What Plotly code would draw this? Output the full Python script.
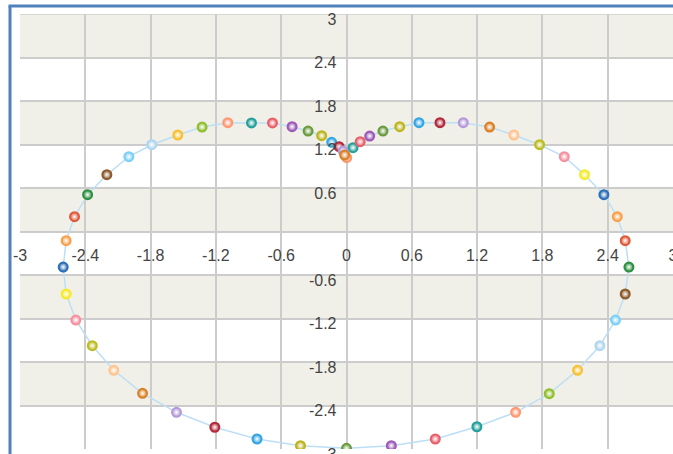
import plotly.graph_objects as go

# points, in drawing order (starts at the cusp)
x_vals = [0.002, 0.06, 0.126, 0.213, 0.335, 0.489, 0.666, 0.859, 1.073, 1.315,
          1.538, 1.774, 2.001, 2.187, 2.365, 2.488, 2.561, 2.595, 2.561, 2.472,
          2.328, 2.123, 1.863, 1.554, 1.198, 0.816, 0.412, 0.0, -0.423, -0.822,
          -1.21, -1.562, -1.874, -2.138, -2.336, -2.487, -2.576, -2.603, -2.576, -2.499,
          -2.379, -2.202, -2.0, -1.789, -1.55, -1.327, -1.091, -0.873, -0.68, -0.5,
          -0.353, -0.228, -0.136, -0.068, -0.031, -0.017]
y_vals = [1.018, 1.156, 1.239, 1.317, 1.386, 1.446, 1.501, 1.501, 1.501, 1.441,
          1.331, 1.197, 1.032, 0.783, 0.508, 0.204, -0.127, -0.49, -0.862, -1.221,
          -1.575, -1.914, -2.237, -2.494, -2.693, -2.862, -2.954, -2.99, -2.954, -2.862,
          -2.7, -2.494, -2.232, -1.914, -1.575, -1.221, -0.862, -0.49, -0.127, 0.204,
          0.508, 0.783, 1.032, 1.197, 1.331, 1.441, 1.501, 1.497, 1.497, 1.446,
          1.386, 1.321, 1.23, 1.17, 1.11, 1.055]

tick_vals = [-3, -2.4, -1.8, -1.2, -0.6, 0, 0.6, 1.2, 1.8, 2.4, 3]
x_tick_text = ['-3', '-2.4', '-1.8', '-1.2', '-0.6', '0', '0.6', '1.2', '1.8', '2.4', '3']
y_tick_text = ['-3', '-2.4', '-1.8', '-1.2', '-0.6', '', '0.6', '1.2', '1.8', '2.4', '3']

# marker colours cycle through this palette
palette = ['#ff9870', '#26a09a', '#e8606a', '#9c59b6', '#6b9a3f', '#bdb51e', '#33a6e3',
           '#b3293a', '#b49ad8', '#d98127', '#ffc48f', '#bcbc22', '#f490a0', '#f5ea2a',
           '#2c6fb6', '#f8a04c', '#dd5a3c', '#2c9040', '#8c5a2c', '#7ccff5', '#aed6f1',
           '#f6c133', '#8fbe2e']
colors = [palette[i % len(palette)] for i in range(len(x_vals))]

fig = go.Figure()

fig.add_trace(go.Scatter(
    x=x_vals + [x_vals[0]],
    y=y_vals + [y_vals[0]],
    mode='lines',
    line=dict(color='#bddff5', width=1.5),
    hoverinfo='skip'
))

fig.add_trace(go.Scatter(
    x=x_vals,
    y=y_vals,
    mode='markers',
    marker=dict(
        size=9,
        color=colors,
        gradient=dict(type='radial', color='#ffffff'),
        line=dict(color=colors, width=2)
    )
))

# alternating shaded bands
shapes = []
for lo, hi in [(2.4, 3), (1.2, 1.8), (0, 0.6), (-1.2, -0.6), (-2.4, -1.8)]:
    shapes.append(dict(type='rect', xref='paper', yref='y', x0=0, x1=1, y0=lo, y1=hi,
                       fillcolor='#f0f0e8', line=dict(width=0), layer='below'))

# top grid line (plotly skips the one on the range edge)
shapes.append(dict(type='line', xref='paper', yref='y', x0=0, x1=1, y0=3, y1=3,
                   line=dict(color='#cccccc', width=1.5), layer='below'))

# blue frame round the chart
shapes.append(dict(type='line', xref='paper', yref='paper', x0=-0.0153, x1=-0.0153,
                   y0=-0.1, y1=1.0184, line=dict(color='#4f81bd', width=3)))
shapes.append(dict(type='line', xref='paper', yref='paper', x0=-0.0176, x1=1.1,
                   y0=1.0184, y1=1.0184, line=dict(color='#4f81bd', width=3)))

fig.update_layout(
    width=673,
    height=454,
    margin=dict(l=20, r=0, t=14, b=5, autoexpand=False),
    paper_bgcolor='white',
    plot_bgcolor='white',
    showlegend=False,
    shapes=shapes,
    font=dict(family='Liberation Sans, Arial, sans-serif', size=16, color='#444444'),
    xaxis=dict(
        range=[-3, 3],
        tickmode='array',
        tickvals=tick_vals,
        ticktext=x_tick_text,
        showgrid=True,
        gridcolor='#cccccc',
        gridwidth=1.5,
        zeroline=True,
        zerolinecolor='#cccccc',
        zerolinewidth=1.5,
        showline=False,
        ticks='',
        anchor='free',
        position=0.5,
        automargin=False,
        ticklabeloverflow='allow',
        ticklabelstandoff=12
    ),
    yaxis=dict(
        range=[-3, 3],
        tickmode='array',
        tickvals=tick_vals,
        ticktext=y_tick_text,
        showgrid=True,
        gridcolor='#cccccc',
        gridwidth=1.5,
        zeroline=True,
        zerolinecolor='#cccccc',
        zerolinewidth=1.5,
        showline=False,
        ticks='',
        anchor='free',
        position=0.5,
        automargin=False,
        ticklabeloverflow='allow',
        ticklabelshift=5,
        ticklabelstandoff=10
    )
)

# drop the page's default body margin so the figure sits in the corner
fig.write_html("out.html", config={'displayModeBar': False},
               post_script="document.body.style.margin = '0';")
